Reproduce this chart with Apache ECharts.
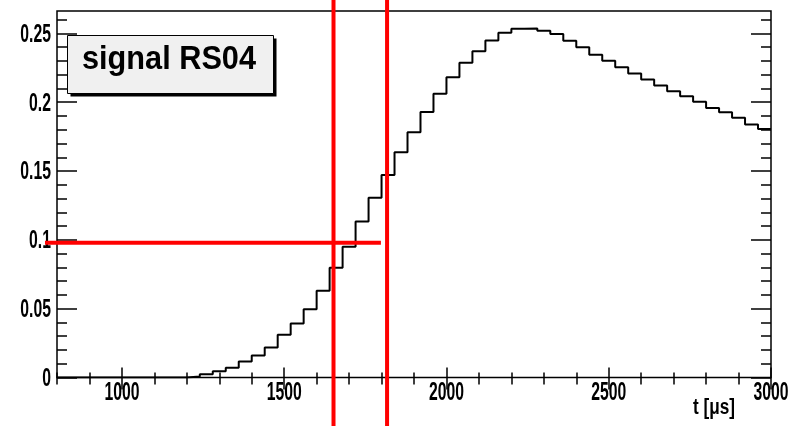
<!DOCTYPE html>
<html>
<head>
<meta charset="utf-8">
<script src="https://cdn.jsdelivr.net/npm/echarts@6/dist/echarts.min.js"></script>
<style>
  html, body { margin: 0; padding: 0; background: #fff; }
  #chart { width: 808px; height: 426px; }
</style>
</head>
<body>
<div id="chart"></div>
<script>
// Histogram binning: lower edge of each 40 µs bin, and the upper edge of the last one
const binLowEdges = [
  800, 840, 880, 920, 960, 1000, 1040, 1080, 1120, 1160,
  1200, 1240, 1280, 1320, 1360, 1400, 1440, 1480, 1520, 1560,
  1600, 1640, 1680, 1720, 1760, 1800, 1840, 1880, 1920, 1960,
  2000, 2040, 2080, 2120, 2160, 2200, 2240, 2280, 2320, 2360,
  2400, 2440, 2480, 2520, 2560, 2600, 2640, 2680, 2720, 2760,
  2800, 2840, 2880, 2920, 2960
];
const histUpperEdge = 3000;

// Bin contents of the RS04 signal
const binContents = [
  0, 0, 0, 0, 0, 0, 0, 0, 0, 0,
  0.0008, 0.0024, 0.0046, 0.0070, 0.0117, 0.0160, 0.0218, 0.0310, 0.0393, 0.0495,
  0.0630, 0.0797, 0.0950, 0.1134, 0.1306, 0.1472, 0.1636, 0.1782, 0.1930, 0.2061,
  0.2182, 0.2287, 0.2371, 0.2449, 0.2505, 0.2534, 0.2536, 0.2519, 0.2495, 0.2446,
  0.2400, 0.2345, 0.2301, 0.2255, 0.2209, 0.2165, 0.2121, 0.2080, 0.2044, 0.2003,
  0.1959, 0.1927, 0.1887, 0.1838, 0.1806
];

// Axis ranges, tick marks and tick labels
const xRange = [800, 3000];
const yRange = [0, 0.2663];
const xMajorTicks = [1000, 1500, 2000, 2500, 3000];
const xTickLabels = ['1000', '1500', '2000', '2500', '3000'];
const yMajorTicks = [0, 0.05, 0.1, 0.15, 0.2, 0.25];
const yTickLabels = ['0', '0.05', '0.1', '0.15', '0.2', '0.25'];
const yMinorTicks = [
  0.01, 0.02, 0.03, 0.04, 0.06, 0.07, 0.08, 0.09,
  0.11, 0.12, 0.13, 0.14, 0.16, 0.17, 0.18, 0.19,
  0.21, 0.22, 0.23, 0.24, 0.26
];

// Cut window (vertical lines) and threshold level (horizontal line)
const cutLow = 1652;
const cutHigh = 1817;
const thresholdLevel = 0.098;
const thresholdSpan = [763, 1798];

const titleText = 'signal RS04';
const xTitle = 't [\u03bcs]';

const FONT = '"Liberation Sans", Arial, sans-serif';
const tickStyle = { color: '#000', width: 1.5 };

function xAxisDef(position, tickLen, tickValues) {
  const ax = {
    type: 'value', position, min: xRange[0], max: xRange[1],
    axisLine: { show: false }, splitLine: { show: false },
    axisTick: { inside: true, length: tickLen, lineStyle: tickStyle },
    axisLabel: { show: false }
  };
  if (tickValues) ax.axisTick.customValues = tickValues; else ax.interval = 100;
  return ax;
}

function yAxisDef(position, tickLen, tickValues) {
  return {
    type: 'value', position, min: yRange[0], max: yRange[1],
    axisLine: { show: false }, splitLine: { show: false },
    axisTick: { inside: true, length: tickLen, lineStyle: tickStyle, customValues: tickValues },
    axisLabel: { show: false }
  };
}

const histData = binLowEdges.map((e, i) => [e, binContents[i]]);
histData.push([histUpperEdge, binContents[binContents.length - 1]]);

const chart = echarts.init(document.getElementById('chart'));
chart.setOption({
  animation: false,
  backgroundColor: '#fff',
  grid: {
    left: 57, right: 37, top: 11, bottom: 48.5,
    show: true, borderColor: '#000', borderWidth: 1.5, backgroundColor: 'transparent'
  },
  xAxis: [
    xAxisDef('bottom', 5, null),
    xAxisDef('bottom', 10, xMajorTicks),
    xAxisDef('top', 7, null),
    xAxisDef('top', 12, xMajorTicks)
  ],
  yAxis: [
    yAxisDef('left', 20, yMajorTicks),
    yAxisDef('left', 10, yMinorTicks),
    yAxisDef('right', 20, yMajorTicks),
    yAxisDef('right', 10, yMinorTicks)
  ],
  series: [{
    type: 'line',
    xAxisIndex: 0, yAxisIndex: 0,
    step: 'end',
    data: histData,
    showSymbol: false,
    lineStyle: { color: '#000', width: 2 },
    z: 3
  }]
});

// Condensed bold labels placed through the axis scales
const toPx = (t, v) => chart.convertToPixel({ xAxisIndex: 0, yAxisIndex: 0 }, [t, v]);
const axisY = toPx(xRange[0], 0)[1];
const axisX = toPx(xRange[0], 0)[0];
const axisRight = toPx(xRange[1], 0)[0];

const labelFont = 'bold 25px ' + FONT;
const labelScale = 0.63;
const graphics = [];

xMajorTicks.forEach((v, i) => {
  graphics.push({
    type: 'text', z: 40, x: toPx(v, 0)[0], y: axisY + 15.5, scaleX: labelScale,
    style: { text: xTickLabels[i], font: labelFont, fill: '#000', align: 'center', verticalAlign: 'middle' }
  });
});
yMajorTicks.forEach((v, i) => {
  graphics.push({
    type: 'text', z: 40, x: axisX - 6, y: toPx(xRange[0], v)[1] + 1.5, scaleX: labelScale,
    style: { text: yTickLabels[i], font: labelFont, fill: '#000', align: 'right', verticalAlign: 'middle' }
  });
});
graphics.push({
  type: 'text', z: 40, x: axisRight - 36, y: axisY + 30, scaleX: 0.78,
  style: { text: xTitle, font: 'bold 22px ' + FONT, fill: '#000', align: 'right', verticalAlign: 'middle' }
});

// Title box with drop shadow
graphics.push(
  { type: 'rect', z: 50, shape: { x: 70.5, y: 38.5, width: 206, height: 58 }, style: { fill: '#000' } },
  { type: 'rect', z: 51, shape: { x: 67.5, y: 35.5, width: 206, height: 58 },
    style: { fill: '#f0f0f0', stroke: '#000', lineWidth: 1 } },
  { type: 'text', z: 52, x: 169, y: 60, scaleX: 0.93,
    style: { text: titleText, fill: '#000', font: 'bold 33px ' + FONT, align: 'center', verticalAlign: 'middle' } }
);

// Cut lines and threshold line
const xLow = toPx(cutLow, 0)[0];
const xHigh = toPx(cutHigh, 0)[0];
const thrA = toPx(thresholdSpan[0], thresholdLevel);
const thrB = toPx(thresholdSpan[1], thresholdLevel);
const red = { stroke: '#ff0000', lineWidth: 4 };
graphics.push(
  { type: 'line', z: 60, shape: { x1: xLow, y1: 0, x2: xLow, y2: 426 }, style: red },
  { type: 'line', z: 60, shape: { x1: xHigh, y1: 0, x2: xHigh, y2: 426 }, style: red },
  { type: 'line', z: 60, shape: { x1: thrA[0], y1: thrA[1], x2: thrB[0], y2: thrB[1] }, style: red }
);

chart.setOption({ graphic: graphics });
</script>
</body>
</html>
